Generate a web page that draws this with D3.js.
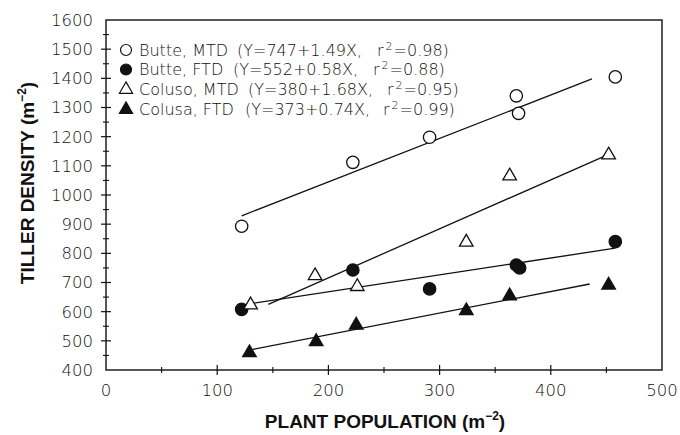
<!DOCTYPE html>
<html>
<head>
<meta charset="utf-8">
<script src="https://cdn.jsdelivr.net/npm/d3@7"></script>
<style>
  body { margin: 0; background: #fff; }
  svg { display: block; }
  text { fill: #111; }
</style>
</head>
<body>
<div id="chart"></div>
<script>
// plant population (x) and tiller density (y) per series
let butteMTD_x = [122, 222, 291, 369, 371, 458];
let butteMTD_y = [893, 1112, 1198, 1340, 1280, 1405];
let butteFTD_x = [122, 222, 291, 369, 372, 458];
let butteFTD_y = [608, 743, 678, 760, 750, 840];
let colusoMTD_x = [130, 188, 226, 324, 363, 452];
let colusoMTD_y = [623, 723, 686, 838, 1065, 1137];
let colusaFTD_x = [129, 189, 225, 324, 363, 452];
let colusaFTD_y = [459, 497, 554, 603, 654, 691];

// legend text and fitted lines
let seriesNames = ["Butte, MTD", "Butte, FTD", "Coluso, MTD", "Colusa, FTD"];
let intercepts = [747, 552, 380, 373];
let slopes = [1.49, 0.58, 1.68, 0.74];
let r2Values = ["0.98", "0.88", "0.95", "0.99"];
let fitFrom = [122, 128, 146, 132];
let fitTo = [437, 458, 448, 435];

let xTicks = [0, 100, 200, 300, 400, 500];
let yTicks = [400, 500, 600, 700, 800, 900, 1000, 1100, 1200, 1300, 1400, 1500, 1600];

let width = 680, height = 435;
let margin = {left: 106, right: 18, top: 20, bottom: 65};
let font = "'DejaVu Sans', sans-serif";

let svg = d3.select("#chart")
    .append("svg")
    .attr("width", width)
    .attr("height", height)
    .style("font-family", font);

let x = d3.scaleLinear().domain([0, 500]).range([margin.left, width - margin.right]);
let y = d3.scaleLinear().domain([400, 1600]).range([height - margin.bottom, margin.top]);

// frame
svg.append("rect")
    .attr("x", x(0)).attr("y", y(1600))
    .attr("width", x(500) - x(0)).attr("height", y(400) - y(1600))
    .attr("fill", "none").attr("stroke", "#111").attr("stroke-width", 1.4);

// ticks crossing the axis lines
let xMinor = d3.range(50, 500, 100);
let yMinor = d3.range(450, 1600, 100);

let xAxis = svg.append("g").attr("transform", `translate(0, ${y(400)})`);
xAxis.selectAll(".maj").data(xTicks.slice(1, -1)).join("line")
    .attr("x1", d => x(d)).attr("x2", d => x(d)).attr("y1", -5).attr("y2", 5)
    .attr("stroke", "#111").attr("stroke-width", 1.2);
xAxis.selectAll(".min").data(xMinor).join("line")
    .attr("class", "min")
    .attr("x1", d => x(d)).attr("x2", d => x(d)).attr("y1", -3).attr("y2", 3)
    .attr("stroke", "#111").attr("stroke-width", 1.1);
xAxis.selectAll("text").data(xTicks).join("text")
    .attr("x", d => x(d)).attr("y", 26)
    .attr("text-anchor", "middle")
    .style("font-size", "16.5px").style("font-weight", 300)
    .text(d => d);

let yAxis = svg.append("g").attr("transform", `translate(${x(0)}, 0)`);
yAxis.selectAll(".maj").data(yTicks.slice(1, -1)).join("line")
    .attr("y1", d => y(d)).attr("y2", d => y(d)).attr("x1", -5).attr("x2", 5)
    .attr("stroke", "#111").attr("stroke-width", 1.2);
yAxis.selectAll(".min").data(yMinor).join("line")
    .attr("class", "min")
    .attr("y1", d => y(d)).attr("y2", d => y(d)).attr("x1", -3).attr("x2", 3)
    .attr("stroke", "#111").attr("stroke-width", 1.1);
yAxis.selectAll("text").data(yTicks).join("text")
    .attr("x", -13).attr("y", d => y(d)).attr("dy", "0.36em")
    .attr("text-anchor", "end")
    .style("font-size", "16.5px").style("font-weight", 300)
    .text(d => d);

// axis titles
let xTitle = svg.append("text")
    .attr("x", 385).attr("y", 428)
    .attr("text-anchor", "middle")
    .style("font-family", "'Liberation Sans', sans-serif")
    .style("font-size", "19px").style("font-weight", "bold");
xTitle.append("tspan").text("PLANT POPULATION (m");
xTitle.append("tspan").attr("dy", -8).style("font-size", "12px").text("−2");
xTitle.append("tspan").attr("dy", 8).text(")");

let yTitle = svg.append("text")
    .attr("transform", `translate(34, 183) rotate(-90)`)
    .attr("text-anchor", "middle")
    .style("font-family", "'Liberation Sans', sans-serif")
    .style("font-size", "19px").style("font-weight", "bold");
yTitle.append("tspan").text("TILLER DENSITY (m");
yTitle.append("tspan").attr("dy", -8).style("font-size", "12px").text("−2");
yTitle.append("tspan").attr("dy", 8).text(")");

// series
let series = [
    {xs: butteMTD_x, ys: butteMTD_y, shape: "circle", fill: "#fff"},
    {xs: butteFTD_x, ys: butteFTD_y, shape: "circle", fill: "#111"},
    {xs: colusoMTD_x, ys: colusoMTD_y, shape: "triangle", fill: "#fff"},
    {xs: colusaFTD_x, ys: colusaFTD_y, shape: "triangle", fill: "#111"}
];

let symbolPath = (shape, size) => d3.symbol()
    .type(shape == "circle" ? d3.symbolCircle : d3.symbolTriangle)
    .size(size)();

// fitted lines
svg.append("g").selectAll("line").data(d3.range(4)).join("line")
    .attr("x1", i => x(fitFrom[i])).attr("y1", i => y(intercepts[i] + slopes[i] * fitFrom[i]))
    .attr("x2", i => x(fitTo[i])).attr("y2", i => y(intercepts[i] + slopes[i] * fitTo[i]))
    .attr("stroke", "#111").attr("stroke-width", 1.3);

series.forEach(s => {
    svg.append("g").selectAll("path").data(s.xs.map((v, i) => [v, s.ys[i]])).join("path")
        .attr("transform", d => `translate(${x(d[0])}, ${y(d[1])})`)
        .attr("d", symbolPath(s.shape, s.shape == "circle" ? 120 : 80))
        .attr("fill", s.fill)
        .attr("stroke", "#111").attr("stroke-width", 1.3);
});

// legend
let legendY = [50, 69.5, 89.5, 109.5];
let eqX = [237, 233, 248, 245];
let r2X = [377, 373, 387, 383];

let legend = svg.append("g")
    .style("font-size", "16px").style("font-weight", 300);

series.forEach((s, i) => {
    legend.append("path")
        .attr("transform", `translate(126, ${legendY[i]})`)
        .attr("d", symbolPath(s.shape, s.shape == "circle" ? 95 : 75))
        .attr("fill", s.fill).attr("stroke", "#111").attr("stroke-width", 1.2);
    legend.append("text")
        .attr("x", 139).attr("y", legendY[i]).attr("dy", "0.36em")
        .text(seriesNames[i]);
    legend.append("text")
        .attr("x", eqX[i]).attr("y", legendY[i]).attr("dy", "0.36em")
        .text(`(Y=${intercepts[i]}+${slopes[i].toFixed(2)}X,`);
    let r = legend.append("text")
        .attr("x", r2X[i]).attr("y", legendY[i]).attr("dy", "0.36em");
    r.append("tspan").text("r");
    r.append("tspan").attr("dx", 2).attr("dy", -6).style("font-size", "11px").text("2");
    r.append("tspan").attr("dx", 1).attr("dy", 6).text("=" + r2Values[i] + ")");
});
</script>
</body>
</html>
